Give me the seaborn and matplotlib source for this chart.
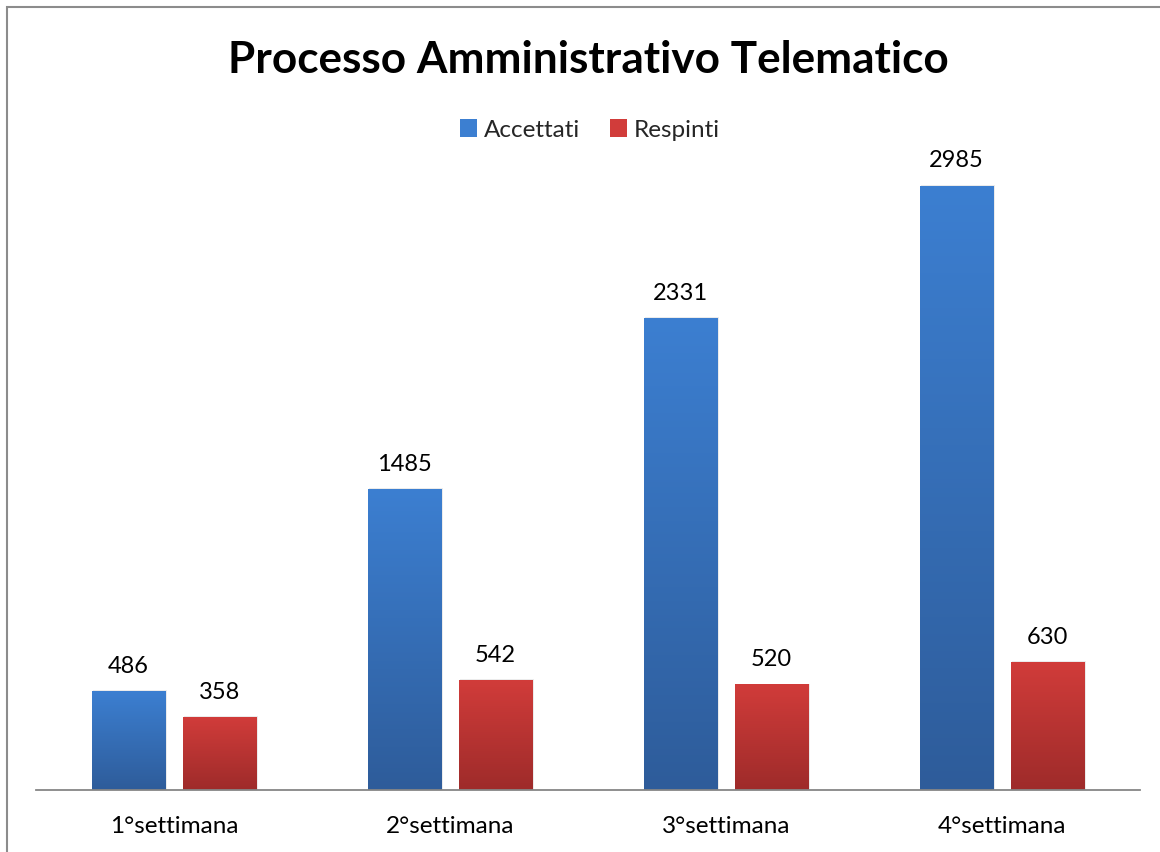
import numpy as np
import pandas as pd
import matplotlib
matplotlib.use("Agg")
import matplotlib.pyplot as plt
import seaborn as sns
from matplotlib.colors import LinearSegmentedColormap
from matplotlib.patches import Rectangle

weeks = ["1°settimana", "2°settimana", "3°settimana", "4°settimana"]
accettati = [486, 1485, 2331, 2985]
respinti = [358, 542, 520, 630]
series = ["Accettati", "Respinti"]
title = "Processo Amministrativo Telematico"

sns.set_theme(style="white")
plt.rcParams["font.family"] = ["Lato", "DejaVu Sans"]

df = pd.DataFrame({
    "week": weeks * 2,
    "value": accettati + respinti,
    "serie": [series[0]] * len(weeks) + [series[1]] * len(weeks),
})

W, H = 1160, 852
fig = plt.figure(figsize=(W / 100, H / 100), dpi=100)
ax_left, ax_right = 36 / W, 1140 / W
ax_bottom, ax_top = 1 - 790 / H, 1 - 150 / H
ax = fig.add_axes([ax_left, ax_bottom, ax_right - ax_left, ax_top - ax_bottom])

top_cols = {"Accettati": "#3c7fd1", "Respinti": "#d13c3a"}
bot_cols = {"Accettati": "#2e5c9a", "Respinti": "#9e2b2a"}

sns.barplot(data=df, x="week", y="value", hue="serie", hue_order=series,
            palette=top_cols, width=0.66, gap=0.19, ax=ax, legend=False,
            errorbar=None)

ymax = 640 / (604 / 2985)
ax.set_ylim(0, ymax)
ax.set_xlim(-0.5, 3.5)

# gradient fill
grad = np.linspace(0, 1, 256).reshape(-1, 1)
for i, s in enumerate(series):
    cmap = LinearSegmentedColormap.from_list(s, [bot_cols[s], top_cols[s]])
    for p in ax.patches[i * len(weeks):(i + 1) * len(weeks)]:
        x, y0 = p.get_x(), p.get_y()
        w, h = p.get_width(), p.get_height()
        p.set_alpha(0)
        # shadow
        ax.add_patch(Rectangle((x + 0.006, y0), w, h * 1.0 + ymax * 0.002,
                               facecolor="#000000", alpha=0.08, zorder=1.5,
                               linewidth=0))
        ax.imshow(grad, extent=[x, x + w, y0, y0 + h], origin="lower",
                  cmap=cmap, aspect="auto", zorder=2)
        ax.text(x + w / 2, h + ymax * 0.023, f"{int(h)}", ha="center",
                va="bottom", fontsize=17, color="#000000")
ax.set_xlim(-0.5, 3.5)
ax.set_ylim(0, ymax)

for sp in ["top", "right", "left"]:
    ax.spines[sp].set_visible(False)
ax.spines["bottom"].set_color("#868686")
ax.spines["bottom"].set_linewidth(1.3)
ax.set_yticks([])
ax.set_xlabel("")
ax.set_ylabel("")
ax.tick_params(axis="x", length=0, labelsize=17.5, pad=19, colors="#000000")
ax.grid(False)

fig.text(588 / W, 1 - 60 / H, title, ha="center", va="center",
         fontsize=31.8, fontweight="bold", color="#000000")

handles = [Rectangle((0, 0), 1, 1, facecolor=top_cols[s], edgecolor="none") for s in series]
fig.legend(handles, series, loc="center", bbox_to_anchor=(590 / W, 1 - 130 / H),
           ncol=2, frameon=False, fontsize=17.5, handlelength=0.7, handleheight=0.7,
           handletextpad=0.3, columnspacing=1.2)

fig.patches.append(Rectangle((7 / W, -0.01), 1.02, 1 - 7 / H + 0.01,
                             transform=fig.transFigure, fill=False,
                             edgecolor="#8c8c8c", linewidth=1.5))

fig.savefig("out.png", dpi=100, facecolor="white")
